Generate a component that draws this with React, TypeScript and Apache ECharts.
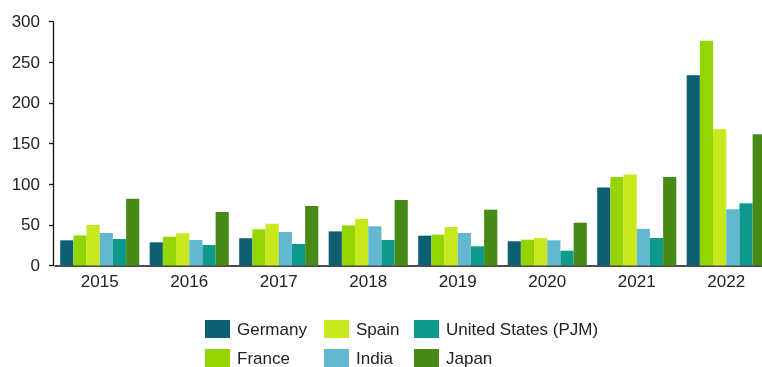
import React, { useEffect, useRef } from "react";
import * as echarts from "echarts";

const years = ["2015", "2016", "2017", "2018", "2019", "2020", "2021", "2022"];
const germany = [31, 28.5, 33.5, 42, 36.7, 29.8, 96, 234];
const france = [37, 35.4, 44.5, 49.4, 38, 31.8, 109, 276.6];
const spain = [50, 39.6, 51.4, 57.2, 47.4, 33.8, 112, 167.6];
const india = [40, 31.4, 41.2, 48.2, 40, 31, 45, 69.2];
const usPjm = [32.6, 25.2, 26.5, 31.4, 23.6, 18.2, 33.8, 76.5];
const japan = [82, 65.8, 73.2, 80.6, 68.7, 52.7, 109, 161.4];
const yTicks = { min: 0, max: 300, interval: 50 };

const FONT = "'Liberation Sans', Arial, sans-serif";
const TEXT = "#222";

export default function App() {
  const ref = useRef<HTMLDivElement>(null);
  useEffect(() => {
    if (!ref.current) return;
    const chart = echarts.init(ref.current, undefined, { renderer: "svg" });
    const mk = (name: string, data: number[], color: string) => ({
      name,
      type: "bar",
      data,
      itemStyle: { color },
      barGap: "0%",
      barCategoryGap: "11.6%",
    });
    const lg = (name: string, left: number, top: number) => ({
      orient: "horizontal",
      left,
      top,
      padding: 0,
      itemWidth: 25,
      itemHeight: 18,
      icon: "rect",
      textStyle: { fontFamily: FONT, fontSize: 17, lineHeight: 17, color: TEXT, padding: [0, 0, 0, 2] },
      selectedMode: false,
      data: [name],
    });
    chart.setOption({
      animation: false,
      grid: { left: 55, right: 0, top: 21.7, bottom: 101.5, containLabel: false },
      legend: [
        lg("Germany", 205, 320),
        lg("France", 205, 349),
        lg("Spain", 324, 320),
        lg("India", 324, 349),
        lg("United States (PJM)", 414, 320),
        lg("Japan", 414, 349),
      ],
      xAxis: {
        type: "category",
        data: years,
        axisLine: { show: true, lineStyle: { color: "#111", width: 1.6 } },
        axisTick: { show: false },
        axisLabel: { fontFamily: FONT, fontSize: 17, color: TEXT, margin: 7 },
      },
      yAxis: {
        type: "value",
        ...yTicks,
        offset: 2,
        splitLine: { show: false },
        axisLine: { show: true, lineStyle: { color: "#111", width: 1.3 } },
        axisTick: { show: true, length: 4, lineStyle: { color: "#111", width: 1.3 } },
        axisLabel: { fontFamily: FONT, fontSize: 17, color: TEXT, margin: 13 },
      },
      series: [
        mk("Germany", germany, "#0d5f73"),
        mk("France", france, "#94d400"),
        mk("Spain", spain, "#c6e81c"),
        mk("India", india, "#63b8d0"),
        mk("United States (PJM)", usPjm, "#0d998b"),
        mk("Japan", japan, "#478a18"),
      ],
    });
    return () => chart.dispose();
  }, []);
  return <div ref={ref} style={{ width: 771, height: 367, position: "fixed", left: 0, top: 0 }} />;
}
